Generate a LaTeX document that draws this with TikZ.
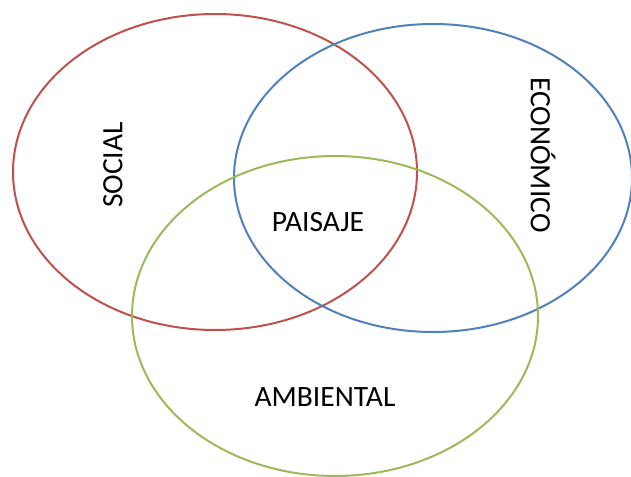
\documentclass[tikz,border=0pt]{standalone}
\usepackage{fontspec}
\setmainfont{Carlito}
\definecolor{REDC}{HTML}{C0504D}
\definecolor{BLUEC}{HTML}{4F81BD}
\definecolor{GREENC}{HTML}{9BBB59}
\tikzset{
    circ/.style={line width=2pt},
    lbl/.style={font=\fontsize{29.5}{33}\selectfont, inner sep=0pt}
}
\begin{document}
\begin{tikzpicture}[x=1pt, y=-1pt]
    \useasboundingbox (0,0) rectangle (631,476);
    \begin{scope}
        \clip (0,0) rectangle (631,476);
        \draw[REDC, circ] (215,172) ellipse [x radius=202, y radius=158];
        \draw[BLUEC, circ] (433,178) ellipse [x radius=199, y radius=154];
        \draw[GREENC, circ] (335,316) ellipse [x radius=203, y radius=160];
    \end{scope}
    \node[lbl, rotate=90] (social) at (113,165) {SOCIAL};
    \node[lbl, rotate=-90] (economico) at (543,155) {ECONÓMICO};
    \node[lbl] (paisaje) at (318,222) {PAISAJE};
    \node[lbl] (ambiental) at (325,397) {AMBIENTAL};
\end{tikzpicture}
\end{document}
